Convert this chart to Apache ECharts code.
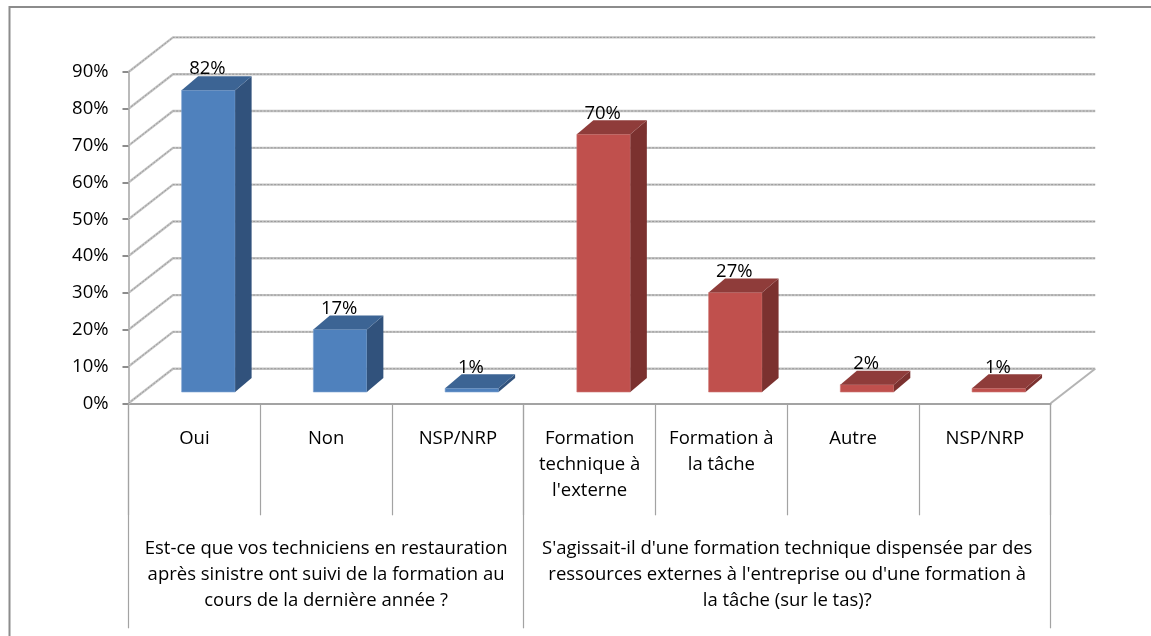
<!DOCTYPE html>
<html><head><meta charset="utf-8">
<style>html,body{margin:0;padding:0;background:#fff}#c{width:1151px;height:636px}</style>
<script src="https://cdn.jsdelivr.net/npm/echarts@6/dist/echarts.min.js"></script>
</head><body><div id="c"></div>
<script>
const categories = ['Oui','Non','NSP/NRP','Formation\ntechnique à\nl\'externe','Formation à\nla tâche','Autre','NSP/NRP'];
const groupLabels = ["Est-ce que vos techniciens en restauration\naprès sinistre ont suivi de la formation au\ncours de la dernière année ?",
  "S'agissait-il d'une formation technique dispensée par des\nressources externes à l'entreprise ou d'une formation à\nla tâche (sur le tas)?"];
const groupFirst = [0,3];
const groupLast = [2,6];
const values = [82,17,1,70,27,2,1];
const groupOf = [0,0,0,1,1,1,1];
const gridValues = [0,10,20,30,40,50,60,70,80,90];
const frontColors = ['#4f81bd','#c0504d'];
const sideColors = ['#31527c','#7b312f'];
const topColors = ['#3c6494','#8f3c3a'];

const FONT = '"Open Sans"';
const FS = 18.5;
const DX = 44.5, DY = 34.6;          // depth of the floor
const FX = 14, FY = 11.3;            // bar front plane offset
const BX = 16.5, BY = 14;            // bar depth

function renderWall(params, api){
  const v = api.value(1);
  const cs = params.coordSys;
  const y = api.coord([0,v])[1];
  const l = cs.x, r = cs.x + cs.width;
  const pts = [[l,y],[l+DX,y-DY],[r+DX,y-DY]];
  const children = [
    {type:'polyline',shape:{points:pts},style:{fill:null,stroke:'#c4c4c4',lineWidth:2.4}},
    {type:'polyline',shape:{points:pts},style:{fill:null,stroke:'#9a9a9a',lineWidth:1,lineDash:[2,1.5]}}];
  if(v===0){children.push({type:'line',shape:{x1:r,y1:y,x2:r+DX,y2:y-DY},style:{stroke:'#b4b4b4',lineWidth:2}});}
  return {type:'group',children};
}
function renderBar(params, api){
  const i = api.value(0), v = api.value(1);
  const g = groupOf[i];
  const c = api.coord([i,v]), o = api.coord([i,0]);
  const w = api.size([1,0])[0]*0.406;
  const x0 = c[0]+FX-w/2, x1 = x0+w, yb = o[1]-FY, yt = c[1]-FY;
  return {type:'group',children:[
    {type:'rect',shape:{x:x0,y:yt,width:w,height:yb-yt},style:{fill:frontColors[g],stroke:g?'#cf7a77':'#7fa4d3',lineWidth:.6}},
    {type:'polygon',shape:{points:[[x1,yt],[x1+BX,yt-BY],[x1+BX,yb-BY],[x1,yb]]},style:{fill:sideColors[g]}},
    {type:'polygon',shape:{points:[[x0,yt],[x0+BX,yt-BY],[x1+BX,yt-BY],[x1,yt]]},style:{fill:topColors[g]}},
    {type:'text',style:{text:v+'%',x:c[0]+FX-1,y:yt-21,align:'center',verticalAlign:'middle',font:FS+'px '+FONT,fill:'#000'}}
  ]};
}
function renderGroupLabel(params, api){
  const a = api.coord([api.value(0),0]), b = api.coord([api.value(1),0]);
  return {type:'text',style:{text:groupLabels[params.dataIndex],x:(a[0]+b[0])/2,y:a[1]+171,align:'center',verticalAlign:'middle',
    font:FS+'px '+FONT,lineHeight:26,fill:'#000'}};
}

const axisGray = '#a3a3a3';
const chart = echarts.init(document.getElementById('c'),null,{renderer:'canvas'});
chart.setOption({
  animation:false,
  backgroundColor:'#fff',
  graphic:[{type:'rect',silent:true,z:-10,shape:{x:9.5,y:7,width:1300,height:800},style:{fill:'none',stroke:'#8c8c8c',lineWidth:2}}],
  grid:{left:128.5,right:100.3,top:72,bottom:232.7,containLabel:false},
  xAxis:[{type:'category',data:categories,position:'bottom',
      axisLine:{show:true,lineStyle:{color:axisGray,width:2}},
      axisTick:{show:true,length:112,lineStyle:{color:axisGray,width:1.2}},
      axisLabel:{interval:0,margin:22,verticalAlign:'top',color:'#000',fontFamily:FONT,fontSize:FS,lineHeight:26}},
    {type:'category',data:categories,position:'bottom',
      axisLine:{show:false},
      axisTick:{show:true,length:225,interval:(i)=>i===0||i===3,lineStyle:{color:axisGray,width:1.2}},
      axisLabel:{show:false}}],
  yAxis:{type:'value',min:0,max:90,interval:10,
    axisLine:{show:true,lineStyle:{color:axisGray,width:1.5}},
    axisTick:{show:true,length:6,lineStyle:{color:'#8c8c8c',width:2}},
    splitLine:{show:false},
    axisLabel:{formatter:'{value}%',margin:20,color:'#000',fontFamily:FONT,fontSize:FS}},
  series:[
    {type:'custom',name:'wall',xAxisIndex:0,clip:false,silent:true,z:1,renderItem:renderWall,encode:{x:0,y:1},data:gridValues.map(v=>[0,v])},
    {type:'custom',name:'bars',xAxisIndex:0,clip:false,z:2,renderItem:renderBar,encode:{x:0,y:1},data:values.map((v,i)=>[i,v])},
    {type:'custom',name:'groups',xAxisIndex:0,clip:false,silent:true,z:3,renderItem:renderGroupLabel,encode:{x:[0,1],y:2},data:groupFirst.map((f,i)=>[f,groupLast[i],0])}
  ]
});
</script></body></html>
